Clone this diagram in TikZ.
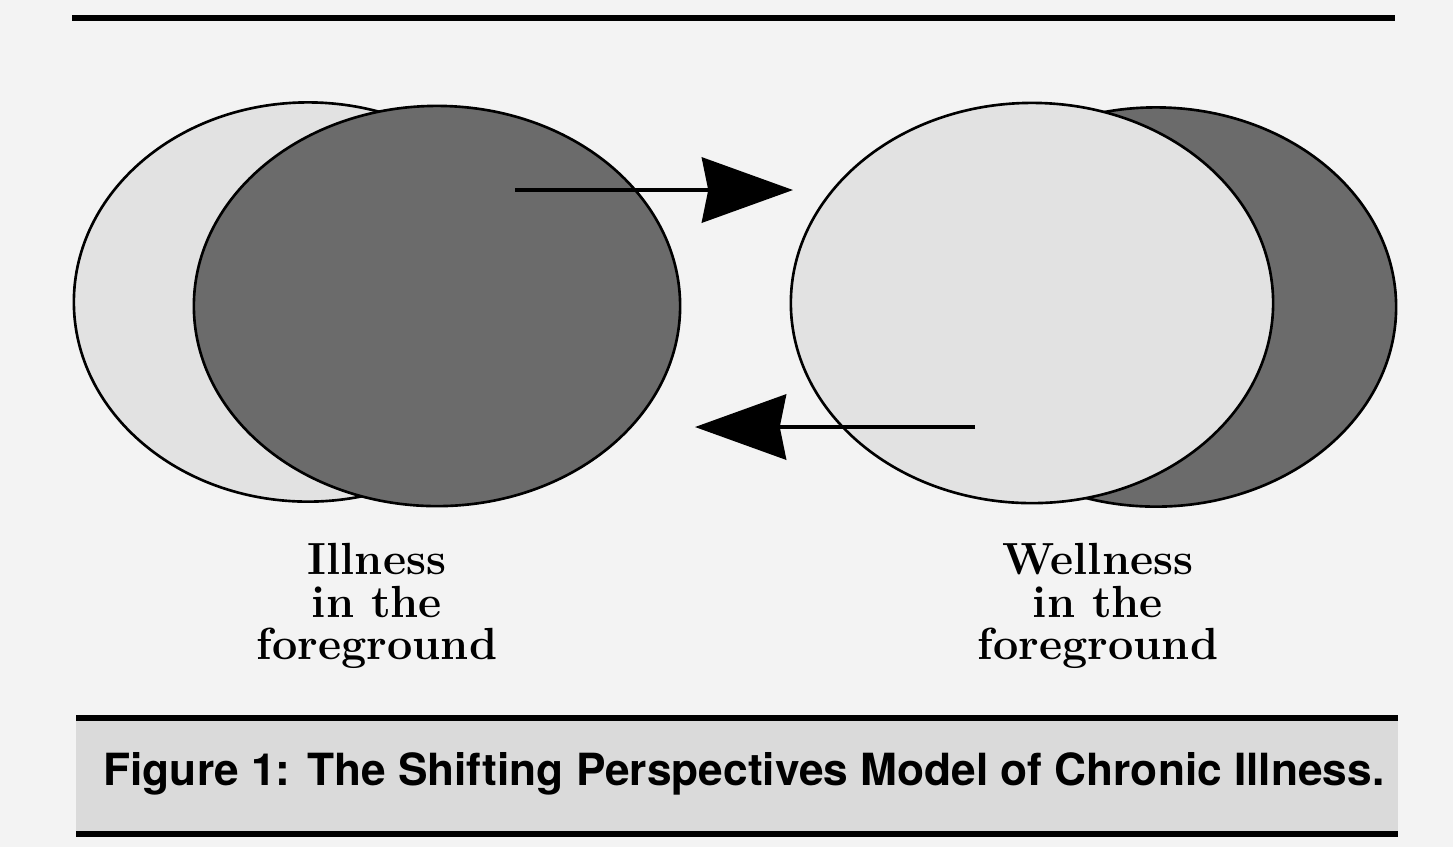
\documentclass[tikz,border=0pt]{standalone}
\usepackage{fontspec}
\usepackage{graphicx}
\usetikzlibrary{arrows.meta,shapes.geometric,positioning,calc}
\newfontfamily\capfont{TeX Gyre Heros}
\definecolor{paper}{HTML}{F3F3F3}
\definecolor{palegray}{HTML}{E2E2E2}
\definecolor{darkgray}{HTML}{6B6B6B}
\definecolor{bandgray}{HTML}{DADADA}
\tikzset{
  disc/.style={ellipse, draw=black, line width=0.75pt, inner sep=0pt},
  lightdisc/.style={disc, fill=palegray},
  darkdisc/.style={disc, fill=darkgray},
  shiftarrow/.style={line width=1.3pt, -{Stealth[length=25.9pt, width=18.5pt, inset=1.8pt]}},
  rule/.style={line width=1.8pt},
  disclabel/.style={align=center, font=\fontsize{12.8}{12}\selectfont\bfseries}
}

\begin{document}
\begin{tikzpicture}[x=0.01cm, y=-0.01cm]
    \fill[paper] (0, 0) rectangle (1453, 847);
    \useasboundingbox (0, 0) rectangle (1453, 847);

    \draw[rule] (72, 18) -- (1395, 18);

    % illness in the foreground
    \node[lightdisc, minimum width=4.68cm, minimum height=3.99cm] (illback) at (308, 302) {};
    \node[darkdisc, minimum width=4.86cm, minimum height=4.00cm] (illfront) at (437, 306) {};

    % wellness in the foreground
    \node[darkdisc, minimum width=4.80cm, minimum height=3.99cm] (wellback) at (1156, 307) {};
    \node[lightdisc, minimum width=4.82cm, minimum height=4.00cm] (wellfront) at (1032, 303) {};

    \coordinate (tofrom) at (515, 190);
    \coordinate (toend) at (793, 190);
    \coordinate (backfrom) at (975, 427);
    \coordinate (backend) at (695, 427);
    \draw[shiftarrow] (tofrom) -- (toend);
    \draw[shiftarrow] (backfrom) -- (backend);

    \node[disclabel] (illtext) at (377, 606) {Illness\\in the\\foreground};
    \node[disclabel] (welltext) at (1098, 606) {Wellness\\in the\\foreground};

    % caption band
    \fill[bandgray] (76, 718) rectangle (1398, 834);
    \draw[rule] (76, 718) -- (1398, 718);
    \draw[rule] (76, 834) -- (1398, 834);
    \node (caption) at (744, 774) {\resizebox{12.8cm}{0.33cm}{\capfont\bfseries Figure 1: The Shifting Perspectives Model of Chronic Illness.}};
\end{tikzpicture}
\end{document}
